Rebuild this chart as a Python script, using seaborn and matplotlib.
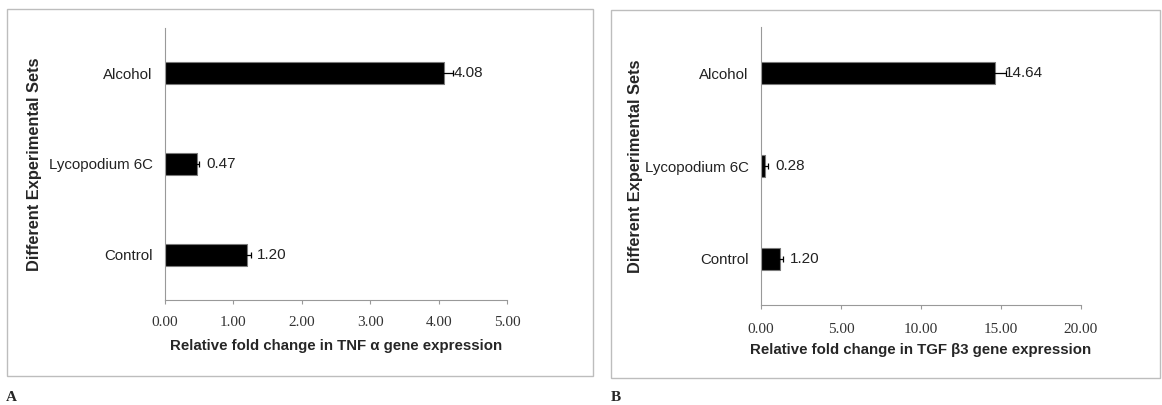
import numpy as np
import pandas as pd
import matplotlib
matplotlib.use("Agg")
import matplotlib.pyplot as plt
import seaborn as sns
from matplotlib.patches import Rectangle

# data
groups = ["Alcohol", "Lycopodium 6C", "Control"]
tnf_fold = [4.08, 0.47, 1.20]
tnf_err = [0.13, 0.03, 0.06]
tgf_fold = [14.64, 0.28, 1.20]
tgf_err = [0.70, 0.15, 0.20]
tnf_ticks = [0, 1, 2, 3, 4, 5]
tgf_ticks = [0, 5, 10, 15, 20]

sns.set_style("white")
plt.rcParams['font.family'] = ['Liberation Sans', 'DejaVu Sans']

W, H = 1162, 405
fig = plt.figure(figsize=(W / 100, H / 100), dpi=100)

def px_axes(l, t, r, b):
    return fig.add_axes([l / W, 1 - b / H, (r - l) / W, (b - t) / H])

def draw_panel(ax, values, errs, ticks, xlabel, ylabel_x, tickpad, labelpad):
    df = pd.DataFrame({"group": groups, "fold": values})
    sns.barplot(data=df, x="fold", y="group", order=groups, orient="h",
                color="black", width=0.24, edgecolor="#7a7a7a", linewidth=0.8,
                saturation=1, errorbar=None, ax=ax)
    pos = np.arange(len(groups))
    ax.errorbar(values, pos, xerr=errs, fmt="none", ecolor="black",
                elinewidth=0.9, capsize=2.5, capthick=0.9)
    for v, p in zip(values, pos):
        ax.annotate(f"{v:.2f}", (v, p), xytext=(7, 0), textcoords="offset points",
                    ha="left", va="center", fontsize=11, color="#222222")
    ax.set_xlim(ticks[0], ticks[-1])
    ax.set_ylim(2.5, -0.5)
    ax.set_xticks(ticks)
    ax.set_xticklabels([f"{t:.2f}" for t in ticks], family="Liberation Serif",
                       fontsize=11, color="#333333")
    ax.tick_params(axis="x", length=3, width=0.8, color="#999999", pad=tickpad,
                   direction="out", bottom=True)
    ax.tick_params(axis="y", length=0, pad=9, labelsize=10.8, labelcolor="#222222")
    for s in ["top", "right"]:
        ax.spines[s].set_visible(False)
    for s in ["left", "bottom"]:
        ax.spines[s].set_color("#999999")
        ax.spines[s].set_linewidth(0.8)
    ax.set_xlabel(xlabel, fontsize=10.8, fontweight="bold", labelpad=labelpad)
    ax.set_ylabel("Different Experimental Sets", fontsize=11.8, fontweight="bold")
    ax.yaxis.set_label_coords(ylabel_x, 0.5)

axA = px_axes(165, 28, 507, 300)
draw_panel(axA, tnf_fold, tnf_err, tnf_ticks,
           "Relative fold change in TNF α gene expression", -0.36, 8.5, 7)
axB = px_axes(761, 27, 1081, 305)
draw_panel(axB, tgf_fold, tgf_err, tgf_ticks,
           "Relative fold change in TGF β3 gene expression", -0.369, 10, 5)

# panel frames
for (l, t, r, b) in [(7, 9, 593, 376), (611, 10, 1160, 378)]:
    fig.patches.append(Rectangle((l / W, 1 - b / H), (r - l) / W, (b - t) / H,
                                 transform=fig.transFigure, fill=False,
                                 edgecolor="#bdbdbd", linewidth=1.0))

fig.text(6 / W, 1 - 391 / H, "A", family="Liberation Serif", fontweight="bold",
         fontsize=11, va="top", ha="left")
fig.text(611 / W, 1 - 391 / H, "B", family="Liberation Serif", fontweight="bold",
         fontsize=11, va="top", ha="left")

fig.savefig("out.png", dpi=100)
